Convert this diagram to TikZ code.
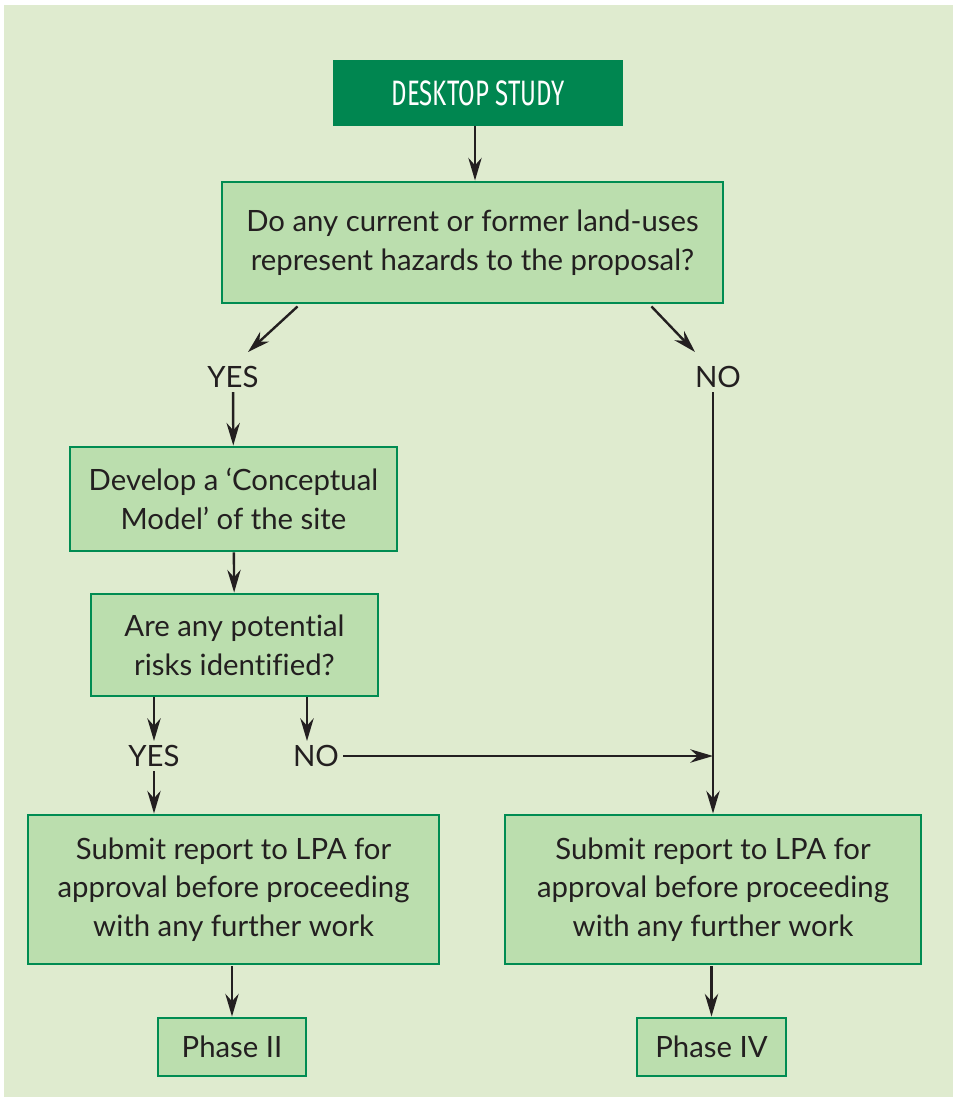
\documentclass[tikz,border=0pt]{standalone}
\usepackage{fontspec}
\setmainfont{Lato}[Ligatures=NoCommon]
\newfontfamily\headfont{Fira Sans}
\usepackage{xcolor}
\usetikzlibrary{arrows.meta, positioning, calc}
\definecolor{pagegreen}{RGB}{223,235,207}
\definecolor{boxgreen}{RGB}{187,222,174}
\definecolor{edgegreen}{RGB}{0,140,82}
\definecolor{darkgreen}{RGB}{0,134,80}
\definecolor{inkgrey}{RGB}{35,31,32}
\tikzstyle{startbox} = [rectangle, minimum width=217.5pt, minimum height=49.5pt, inner sep=0pt, text=white, fill=darkgreen, font=\headfont\fontsize{26.5}{30}\selectfont]
\tikzstyle{process} = [rectangle, inner sep=0pt, align=center, text=inkgrey, draw=edgegreen, line width=2.2pt, fill=boxgreen, font=\fontsize{22}{29}\selectfont]
\tikzstyle{answer} = [inner sep=3pt, text=inkgrey, font=\fontsize{22}{29}\selectfont]
\tikzstyle{arrow} = [line width=1.8pt, draw=inkgrey, -{Stealth[length=17pt,width=10pt]}]

\begin{document}
\begin{tikzpicture}[x=0.75pt, y=-0.75pt]

% page
\useasboundingbox (0,0) rectangle (953,1097);
\fill[pagegreen] (4,5) rectangle (953,1097);

% nodes
\node (desktop) [startbox] at (478,93) {\scalebox{0.68}[1]{DESKTOP STUDY}};
\node (hazards) [process, minimum width=375.75pt, minimum height=90.75pt] at (472.5,242.5) {Do any current or former land-uses\\represent hazards to the proposal?};
\node (yes_a) [answer] at (233,377) {YES};
\node (no_a) [answer] at (718,377) {NO};
\node (model) [process, minimum width=245.25pt, minimum height=78pt] at (233.5,499) {Develop a `Conceptual\\Model' of the site};
\node (risks) [process, minimum width=215.25pt, minimum height=76.5pt] at (234.5,645) {Are any potential\\risks identified?};
\node (yes_b) [answer] at (154,756) {YES};
\node (no_b) [answer] at (316,756) {NO};
\node (report_left) [process, minimum width=308.25pt, minimum height=111.75pt] at (233.5,889.5) {Submit report to LPA for\\approval before proceeding\\with any further work};
\node (report_right) [process, minimum width=312pt, minimum height=111.75pt] at (713,889.5) {Submit report to LPA for\\approval before proceeding\\with any further work};
\node (phase_two) [process, minimum width=111pt, minimum height=43.5pt] at (232,1047) {Phase II};
\node (phase_four) [process, minimum width=111.75pt, minimum height=43.5pt] at (711.5,1047) {Phase IV};

% connectors
\draw [arrow] ($(desktop.south)+(-3,0)$) -- ($(hazards.north)+(2.5,0)$);
\draw [arrow] ($(hazards.south west)+(77,2)$) -- ($(yes_a)+(15,-25)$);
\draw [arrow] ($(hazards.south east)+(-73,2)$) -- ($(no_a)+(-23,-25)$);
\draw [arrow] (yes_a) -- (model);
\draw [arrow] (no_a.south -| report_right.north) -- (report_right.north);
\draw [arrow] (model) -- (risks);
\draw [arrow] (risks.south -| yes_b) -- (yes_b);
\draw [arrow] ($(risks.south -| no_b)+(-9,0)$) -- ($(no_b.north)+(-9,0)$);
\draw [arrow] (yes_b.south) -- (yes_b.south |- report_left.north);
\draw [arrow] (no_b.east) -- (no_b.east -| report_right.north);
\draw [arrow] ($(report_left.south -| phase_two)+(0,1)$) -- (phase_two);
\draw [arrow] ($(report_right.south -| phase_four)+(0,1)$) -- (phase_four);

\end{tikzpicture}
\end{document}
